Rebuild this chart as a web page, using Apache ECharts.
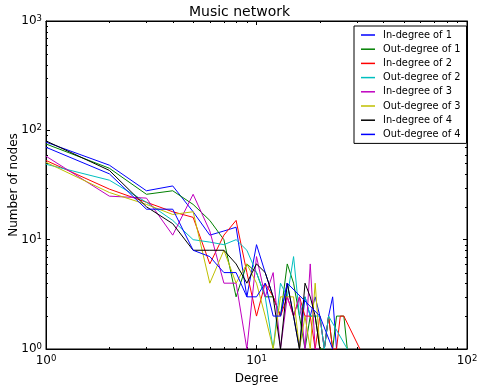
<!DOCTYPE html>
<html>
<head>
<meta charset="utf-8">
<script src="https://cdn.jsdelivr.net/npm/echarts@6/dist/echarts.min.js"></script>
<style>
  html, body { margin: 0; padding: 0; background: #fff; }
  #chart { width: 479px; height: 391px; }
</style>
</head>
<body>
<div id="chart"></div>
<script>
// Degree distributions of the music network: [degree, number of nodes]
const seriesNames = [
  'In-degree of 1', 'Out-degree of 1', 'In-degree of 2', 'Out-degree of 2',
  'In-degree of 3', 'Out-degree of 3', 'In-degree of 4', 'Out-degree of 4'
];
const inDegree1 = [[1,78],[2,48],[3,28],[4,31],[5,18],[6,11],[7,12],[8,13],[9,3],[10,9],[11,5],[12,3],[13,2],[14,4],[15,2],[16,1],[17,3],[18,2],[19,3],[20,2],[21,1],[22,2],[23,3],[24,1]];
const outDegree1 = [[1,75],[2,45],[3,26],[4,28],[5,21],[6,15],[7,10],[8,3],[9,6],[10,5],[11,3],[12,3],[13,2],[14,6],[15,4],[16,2],[17,1],[18,2],[19,2],[20,1],[21,1],[22,2],[23,1],[24,2],[25,2],[26,2],[27,1]];
const inDegree2 = [[1,53],[2,29],[3,22],[4,18],[5,16],[6,6],[7,11],[8,15],[9,5],[10,2],[11,4],[12,3],[13,2],[14,3],[15,2],[16,3],[17,2],[18,2],[19,1],[20,2],[21,1],[22,2],[23,1],[24,1],[25,2],[26,2],[31,1]];
const outDegree2 = [[1,49],[2,35],[3,22],[4,15],[5,10],[6,9.5],[7,9],[8,10],[9,8],[10,5],[11,3],[12,1],[13,4],[14,3],[15,7],[16,2],[17,3],[18,2],[19,2],[20,2],[21,1],[22,2],[27,1]];
const inDegree3 = [[1,58],[2,25],[3,24],[4,11],[5,26],[6,12],[7,4],[8,4],[9,1],[10,7],[11,3],[12,5],[13,1],[14,3],[15,2],[16,3],[17,1],[18,6],[19,1],[20,1]];
const outDegree3 = [[1,51],[2,27],[3,21],[4,17],[5,18],[6,4],[7,8],[8,4],[9,6],[10,4],[11,2],[12,1],[13,3],[14,3],[15,3],[16,1],[17,2],[18,1],[19,4],[20,1]];
const inDegree4 = [[1,80],[2,43],[3,20],[4,14],[5,8],[6,8],[7,8],[8,6],[9,4],[10,6],[11,5],[12,3],[13,1],[14,4],[15,2],[16,1],[17,4],[18,3],[19,2],[20,1]];
const outDegree4 = [[1,70],[2,40],[3,19],[4,19],[5,8],[6,7],[7,5],[8,5],[9,3],[10,3],[11,4],[12,2],[13,2],[14,4],[20,2],[23,1]];

const seriesData = [inDegree1, outDegree1, inDegree2, outDegree2, inDegree3, outDegree3, inDegree4, outDegree4];
const seriesColors = ['#0000ff', '#008000', '#ff0000', '#00bfbf', '#bf00bf', '#bfbf00', '#000000', '#0000ff'];

// Axis ranges and decade tick labels
const xTicks = [1, 10, 100];
const yTicks = [1, 10, 100, 1000];

const FONT = 'DejaVu Sans';
const chart = echarts.init(document.getElementById('chart'), null, { renderer: 'canvas' });

const richPow = {
  b: { fontSize: 12, fontFamily: FONT, color: '#000', lineHeight: 14 },
  s: { fontSize: 8.5, fontFamily: FONT, color: '#000', lineHeight: 8, verticalAlign: 'top' }
};
const powLabel = v => '{b|10}{s|' + Math.round(Math.log10(v)) + '}';

const gridBox = {
  left: 46, right: 12, top: 21, bottom: 42,
  containLabel: false, outerBoundsMode: 'none',
  show: true, borderColor: '#000', borderWidth: 1, backgroundColor: '#fff'
};

const baseAxis = {
  type: 'log', logBase: 10,
  axisLine: { show: true, lineStyle: { color: '#000', width: 1 } },
  axisTick: { show: true, inside: true, length: 4, lineStyle: { color: '#000' } },
  splitLine: { show: false },
  minorTick: { show: false }
};

chart.setOption({
  animation: false,
  backgroundColor: '#fff',
  title: {
    text: 'Music network', left: 'center', top: 1, padding: 4,
    textStyle: { fontFamily: FONT, fontSize: 14, fontWeight: 'normal', color: '#000' }
  },
  grid: gridBox,
  legend: {
    orient: 'vertical', left: 354, top: 26,
    data: seriesNames,
    icon: 'rect',
    backgroundColor: '#fff', borderColor: '#000', borderWidth: 1, borderRadius: 0,
    padding: [3, 6, 3, 7],
    itemWidth: 14, itemHeight: 1.5, itemGap: 2.2,
    textStyle: { fontFamily: FONT, fontSize: 9.8, color: '#000', lineHeight: 12, padding: [0, 0, 0, 3] }
  },
  xAxis: [
    Object.assign({}, baseAxis, {
      min: xTicks[0], max: xTicks[xTicks.length - 1], position: 'bottom',
      name: 'Degree', nameLocation: 'middle', nameGap: 24, nameMoveOverlap: false,
      nameTextStyle: { fontFamily: FONT, fontSize: 12, color: '#000' },
      axisLabel: { formatter: powLabel, rich: richPow, margin: 5 }
    }),
    Object.assign({}, baseAxis, {
      min: xTicks[0], max: xTicks[xTicks.length - 1], position: 'top',
      axisLabel: { show: false }
    })
  ],
  yAxis: [
    Object.assign({}, baseAxis, {
      min: yTicks[0], max: yTicks[yTicks.length - 1], position: 'left',
      name: 'Number of nodes', nameLocation: 'middle', nameGap: 26, nameMoveOverlap: false,
      nameTextStyle: { fontFamily: FONT, fontSize: 12, color: '#000' },
      axisLabel: { formatter: powLabel, rich: richPow, margin: 4 }
    }),
    Object.assign({}, baseAxis, {
      min: yTicks[0], max: yTicks[yTicks.length - 1], position: 'right',
      axisLabel: { show: false }
    })
  ],
  series: seriesData.map((d, i) => ({
    name: seriesNames[i],
    type: 'line',
    data: d,
    xAxisIndex: 0, yAxisIndex: 0,
    symbol: 'none', showSymbol: false,
    clip: true,
    color: seriesColors[i],
    itemStyle: { color: seriesColors[i] },
    lineStyle: { width: 1, color: seriesColors[i] },
    emphasis: { disabled: true }
  }))
});

// Minor log ticks (2..9 per decade) on all four sides, placed through the grid's scales
function minorValues(ticks) {
  const out = [];
  for (let k = 0; k < ticks.length - 1; k++) {
    for (let m = 2; m <= 9; m++) out.push(ticks[k] * m);
  }
  return out;
}
const marks = [];
const tickLen = 2;
const pMin = chart.convertToPixel({ gridIndex: 0 }, [xTicks[0], yTicks[0]]);
const pMax = chart.convertToPixel({ gridIndex: 0 }, [xTicks[xTicks.length - 1], yTicks[yTicks.length - 1]]);
const edgeL = pMin[0], edgeB = pMin[1], edgeR = pMax[0], edgeT = pMax[1];
const tickStyle = { stroke: '#000', lineWidth: 1 };
minorValues(xTicks).forEach(v => {
  const px = Math.round(chart.convertToPixel({ gridIndex: 0 }, [v, yTicks[0]])[0]) + 0.5;
  marks.push({ type: 'line', shape: { x1: px, y1: edgeB, x2: px, y2: edgeB - tickLen }, style: tickStyle, silent: true });
  marks.push({ type: 'line', shape: { x1: px, y1: edgeT, x2: px, y2: edgeT + tickLen }, style: tickStyle, silent: true });
});
minorValues(yTicks).forEach(v => {
  const py = Math.round(chart.convertToPixel({ gridIndex: 0 }, [xTicks[0], v])[1]) + 0.5;
  marks.push({ type: 'line', shape: { x1: edgeL, y1: py, x2: edgeL + tickLen, y2: py }, style: tickStyle, silent: true });
  marks.push({ type: 'line', shape: { x1: edgeR, y1: py, x2: edgeR - tickLen, y2: py }, style: tickStyle, silent: true });
});
chart.setOption({ graphic: marks });
</script>
</body>
</html>
